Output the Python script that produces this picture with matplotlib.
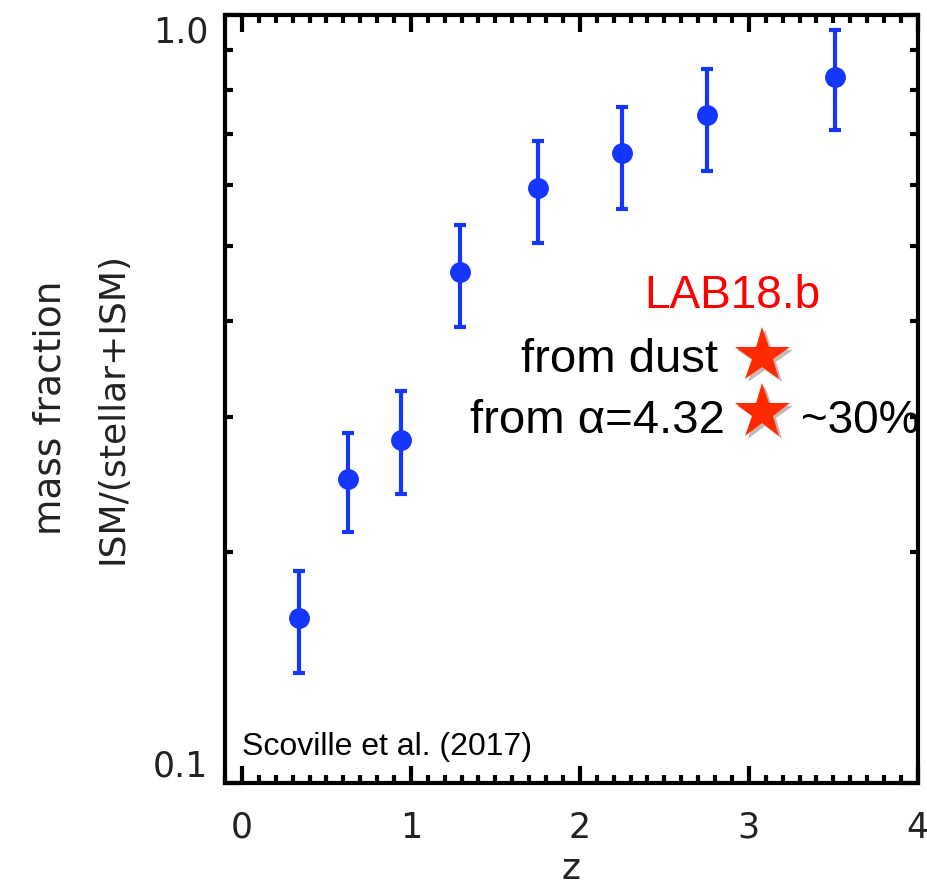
import matplotlib
matplotlib.use('Agg')
import matplotlib.pyplot as plt
import matplotlib.patheffects as pe
from matplotlib.ticker import MultipleLocator, FixedLocator, NullFormatter
import numpy as np

# data (Scoville et al. 2017)
z = [0.34, 0.63, 0.94, 1.29, 1.75, 2.25, 2.75, 3.51]
frac = [0.164, 0.249, 0.280, 0.463, 0.595, 0.661, 0.741, 0.830]
err_lo = [0.139, 0.212, 0.238, 0.392, 0.505, 0.559, 0.627, 0.708]
err_hi = [0.189, 0.286, 0.324, 0.533, 0.686, 0.759, 0.851, 0.956]

# LAB18.b stars
star_z = [3.08, 3.08]
star_frac = [0.360, 0.304]

blue = '#1536ff'
red = '#ff2a00'
idl_font = 'DejaVu Sans'
txt_font = 'Liberation Sans'

fig = plt.figure(figsize=(9.28, 8.9), dpi=100)
ax = fig.add_axes([0.2425, 0.1202, 0.7465, 0.8628])

yerr = [np.array(frac) - np.array(err_lo), np.array(err_hi) - np.array(frac)]
ax.errorbar(z, frac, yerr=yerr, fmt='o', color=blue, ms=14, elinewidth=3,
            capsize=4, capthick=3, zorder=3)

stars, = ax.plot(star_z, star_frac, '*', color=red, ms=42, mec=red, mew=0, zorder=4)
stars.set_path_effects([pe.SimplePatchShadow(offset=(2, -2), alpha=0.3), pe.Normal()])

ax.set_yscale('log')
ax.set_xlim(-0.1, 4.0)
ax.set_ylim(0.1, 1.0)

# ticks, IDL style
ax.xaxis.set_major_locator(MultipleLocator(1))
ax.xaxis.set_minor_locator(MultipleLocator(0.1))
ax.yaxis.set_major_locator(FixedLocator([0.1, 1.0]))
ax.yaxis.set_minor_locator(FixedLocator([0.2, 0.3, 0.4, 0.5, 0.6, 0.7, 0.8, 0.9]))
ax.yaxis.set_minor_formatter(NullFormatter())
ax.set_yticklabels(['0.1', '1.0'])
ax.tick_params(which='both', direction='in', top=True, right=True, width=3, color='black')
ax.tick_params(which='major', length=12)
ax.tick_params(which='minor', length=6)
ax.tick_params(axis='x', which='major', pad=20, labelsize=25, labelcolor='#222222')
ax.tick_params(axis='y', which='major', pad=12, labelsize=25, labelcolor='#222222')
for lab in ax.get_xticklabels() + ax.get_yticklabels():
    lab.set_family(idl_font)
ylabs = ax.get_yticklabels()
ylabs[0].set_va('bottom')
ylabs[1].set_va('top')
for s in ax.spines.values():
    s.set_linewidth(3)

ax.set_xlabel('z', fontsize=26, family=idl_font, color='#222222', labelpad=5)
fig.text(0.054, 0.542, 'mass fraction', rotation=90, ha='center', va='center',
         fontsize=27, family=idl_font, color='#222222')
fig.text(0.121, 0.542, 'ISM/(stellar+ISM)', rotation=90, ha='center', va='center',
         fontsize=26, family=idl_font, color='#222222')

# annotations
ax.text(2.90, 0.4155, 'LAB18.b', color='red', fontsize=33, family=txt_font,
        ha='center', va='baseline')
ax.text(2.82, 0.343, 'from dust', color='black', fontsize=34, family=txt_font,
        ha='right', va='baseline')
ax.text(2.86, 0.286, 'from α=4.32', color='black', fontsize=34, family=txt_font,
        ha='right', va='baseline')
ax.text(3.31, 0.286, '~30%', color='black', fontsize=33, family=txt_font,
        ha='left', va='baseline', clip_on=False)
ax.text(0.0, 0.1087, 'Scoville et al. (2017)', color='black', fontsize=23,
        family=txt_font, ha='left', va='baseline')

fig.savefig('out.png', dpi=100)
